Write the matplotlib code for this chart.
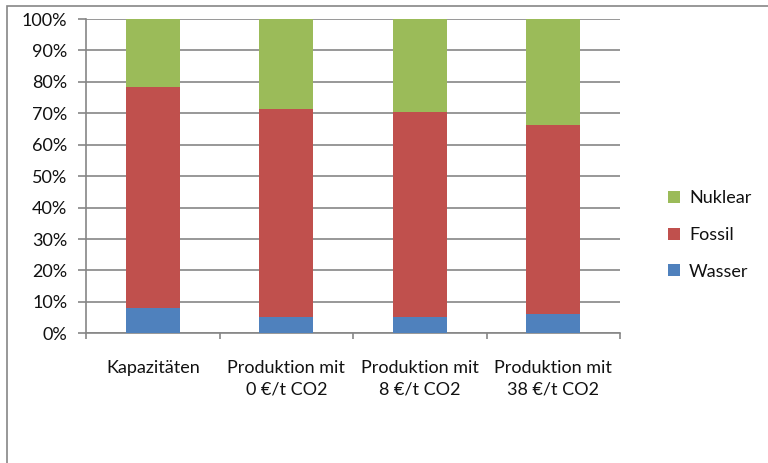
import matplotlib.pyplot as plt
from matplotlib.patches import Rectangle
import numpy as np

plt.rcParams['font.family'] = ['Lato', 'DejaVu Sans']

categories = ['Kapazitäten', 'Produktion mit\n0 €/t CO2',
              'Produktion mit\n8 €/t CO2', 'Produktion mit\n38 €/t CO2']
wasser = [8.0, 5.3, 5.3, 6.2]
fossil = [70.5, 66.1, 65.0, 60.0]
nuklear = [21.5, 28.6, 29.7, 33.8]

colors = {'Wasser': '#4F81BD', 'Fossil': '#C0504D', 'Nuklear': '#9BBB59'}
grid_col = '#868686'
txt_col = '#111111'
fs = 13

fig = plt.figure(figsize=(7.68, 4.63), dpi=100)
# outer chart frame
fig.patches.append(Rectangle((7 / 768, -0.1), 1.1, 1 - 6 / 463 + 0.1,
                             transform=fig.transFigure, fill=False,
                             edgecolor=grid_col, linewidth=1.2))

ax = fig.add_axes([86 / 768, 1 - 333.3 / 463, (620 - 86) / 768, (333.3 - 19) / 463])
x = np.arange(len(categories))
w = 0.405
b1 = ax.bar(x, wasser, w, color=colors['Wasser'], label='Wasser', zorder=3)
b2 = ax.bar(x, fossil, w, bottom=wasser, color=colors['Fossil'], label='Fossil', zorder=3)
bottom3 = np.array(wasser) + np.array(fossil)
b3 = ax.bar(x, nuklear, w, bottom=bottom3, color=colors['Nuklear'], label='Nuklear', zorder=3)

ax.set_xlim(-0.5, 3.5)
ax.set_ylim(0, 100)
ax.set_yticks(np.arange(0, 101, 10))
ax.set_yticklabels([f'{v}%' for v in range(0, 101, 10)], fontsize=fs, color=txt_col)
ax.yaxis.grid(True, color=grid_col, linewidth=1.2, zorder=0)
ax.tick_params(axis='y', length=5.5, width=1.2, color=grid_col, pad=8)

ax.set_xticks(x)
ax.set_xticklabels(categories, fontsize=fs, color=txt_col, linespacing=1.45)
ax.set_xticks(np.arange(-0.5, 4, 1), minor=True)
ax.tick_params(axis='x', which='major', length=0, pad=19)
ax.tick_params(axis='x', which='minor', length=4.5, width=1.2, color=grid_col)

for s in ['top', 'right']:
    ax.spines[s].set_visible(False)
for s in ['left', 'bottom']:
    ax.spines[s].set_color(grid_col)
    ax.spines[s].set_linewidth(1.2)

leg = fig.legend(handles=[b3, b2, b1], labels=['Nuklear', 'Fossil', 'Wasser'],
                 loc='center left', bbox_to_anchor=(652 / 768, 1 - 235 / 463),
                 frameon=False, fontsize=fs, handlelength=0.65, handleheight=0.65,
                 handletextpad=0.5, labelspacing=1.15)
for t in leg.get_texts():
    t.set_color(txt_col)

fig.savefig('out.png', dpi=100)
